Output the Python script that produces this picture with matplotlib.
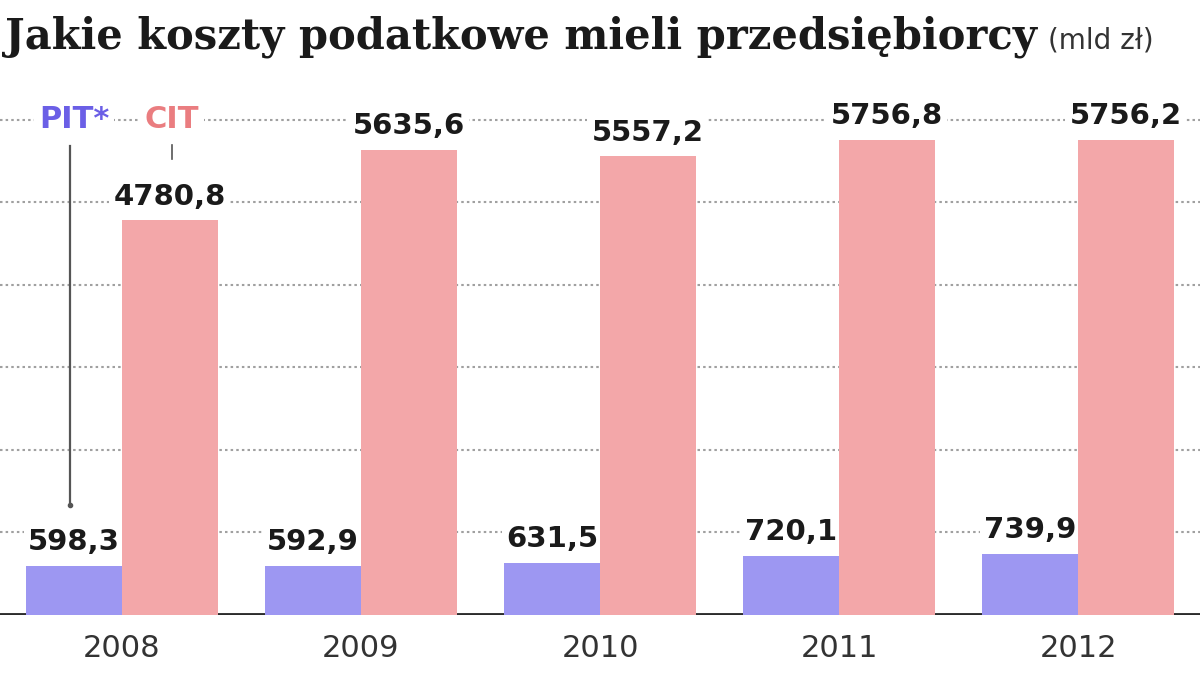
import numpy as np
import matplotlib
import matplotlib.pyplot as plt
matplotlib.use('Agg')

years = ['2008', '2009', '2010', '2011', '2012']
pit = [598.3, 592.9, 631.5, 720.1, 739.9]
cit = [4780.8, 5635.6, 5557.2, 5756.8, 5756.2]
pit_labels = ['598,3', '592,9', '631,5', '720,1', '739,9']
cit_labels = ['4780,8', '5635,6', '5557,2', '5756,8', '5756,2']

pit_color = '#9d97f2'
cit_color = '#f3a7a9'

fig = plt.figure(figsize=(12, 6.8), dpi=100)
ax = fig.add_axes([0, 0.0956, 1, 0.787])

x = np.arange(len(years))
bar_width = 0.4

# grid lines, dotted
for val in range(1000, 7000, 1000):
    ax.axhline(val, color='#a0a0a0', lw=1.5, ls=(0, (1.2, 1.5)), zorder=0)

ax.bar(x - bar_width / 2, pit, bar_width, color=pit_color, zorder=2)
ax.bar(x + bar_width / 2, cit, bar_width, color=cit_color, zorder=2)
ax.axhline(0, color='#2b2b2b', lw=3.5, zorder=1)

# labels sit under the bars so their white boxes only hide grid lines
label_box = dict(boxstyle='square,pad=0.15', fc='white', ec='none')
for i in range(len(years)):
    ax.annotate(pit_labels[i], (x[i] - bar_width / 2, pit[i]), xytext=(0, 7),
                textcoords='offset points', ha='center', va='bottom',
                fontsize=21, fontweight='bold', color='#1a1a1a',
                bbox=label_box, zorder=1.5)
    ax.annotate(cit_labels[i], (x[i] + bar_width / 2, cit[i]), xytext=(0, 7),
                textcoords='offset points', ha='center', va='bottom',
                fontsize=21, fontweight='bold', color='#1a1a1a',
                bbox=label_box, zorder=1.5)

# legend-like labels with pointer lines
ax.text(-0.2, 6000, 'PIT*', ha='center', va='center', fontsize=22,
        fontweight='bold', color='#6b5fe6', bbox=label_box, zorder=3)
ax.text(0.21, 6000, 'CIT', ha='center', va='center', fontsize=22,
        fontweight='bold', color='#ea7d80', bbox=label_box, zorder=3)
ax.plot([-0.218, -0.218], [5680, 1330], color='#555555', lw=1.6, zorder=4)
ax.plot([-0.218], [1330], 'o', color='#555555', ms=3, zorder=4)
ax.plot([0.21, 0.21], [5700, 5520], color='#555555', lw=1.2, zorder=4)

ax.set_xlim(-0.51, 4.51)
ax.set_ylim(0, 6485)
ax.set_xticks(x)
ax.set_xticklabels(years, fontsize=22, color='#333333')
ax.tick_params(axis='x', length=0, pad=14)
ax.set_yticks([])
for s in ax.spines.values():
    s.set_visible(False)

title = fig.text(0.004, 1 - 48 / 680, 'Jakie koszty podatkowe mieli przedsiębiorcy',
                 fontsize=30, fontweight='bold', family='DejaVu Serif',
                 color='#1a1a1a', va='baseline', ha='left')
ax.annotate('(mld zł)', xy=(1, 0), xycoords=title, xytext=(8, 2),
            textcoords='offset points', fontsize=20, color='#333333',
            va='bottom', ha='left', annotation_clip=False)

plt.savefig('out.png', dpi=100)
